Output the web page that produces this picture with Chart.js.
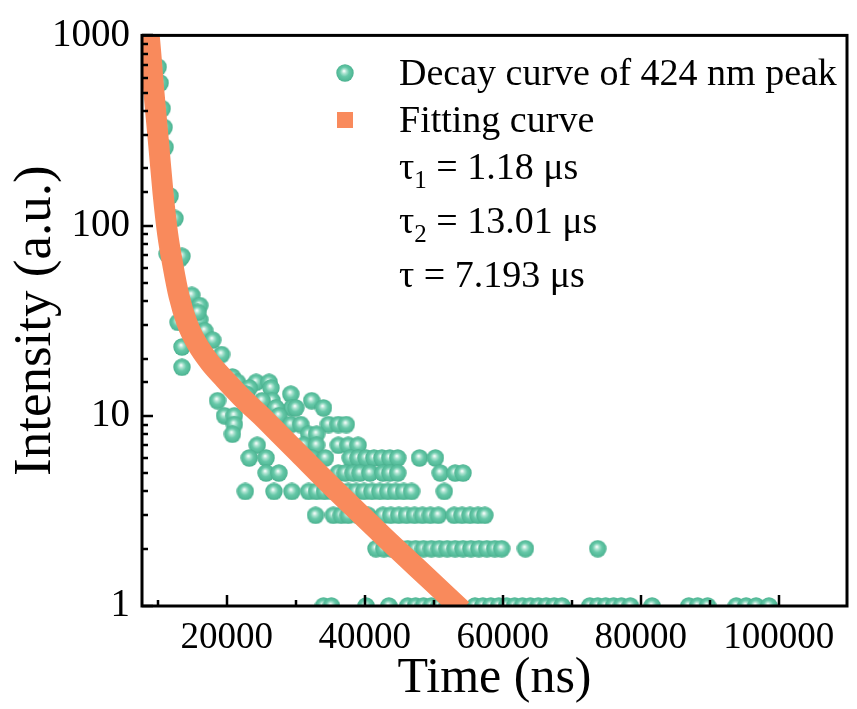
<!DOCTYPE html>
<html><head><meta charset="utf-8">
<script src="https://cdn.jsdelivr.net/npm/chart.js@4.4.1/dist/chart.umd.min.js"></script>
<style>html,body{margin:0;padding:0;background:#fff;}canvas{display:block;}</style>
</head><body>
<canvas id="c" width="857" height="709"></canvas>
<script>
// ---- data ----
const fitTime = [8470, 8750, 9400, 10120, 10760, 11410, 12200, 13060, 14210, 15640, 17510, 19660, 22530, 24970, 27550, 30420, 34730, 39030, 43340, 47640, 51950, 54100];
const fitIntensity = [1170, 988, 517, 267, 147, 90.9, 61.2, 42.7, 30.9, 24.0, 19.1, 15.6, 12.1, 10.0, 8.06, 6.34, 4.42, 3.12, 2.21, 1.58, 1.127, 0.953];

const decayTime = [
  8900, 9400, 9800, 10045, 10330, 10300, 10620, 10900, 11000, 11050, 11340, 11700, 11770, 12480, 12600, 12920, 13200, 13490, 13490, 13490,
  14920, 16070, 16070, 15790, 16790, 17940, 19230, 18650, 19660, 20810, 21530, 24250, 26120, 26400, 23250, 29270, 22820, 26550, 25110, 32290,
  29420, 27120, 29990, 34010, 27550, 21090, 21090, 29270, 30710, 34730, 36160, 37310, 20810, 31860, 33010, 24400, 31140, 33010, 36160, 37600, 39030,
  23250, 25690, 32290, 34300, 37880, 39030, 40180, 41330, 42480, 43620, 44770, 47930, 50230,
  25690, 27550, 33290, 36160, 37170, 38310, 39320, 40750, 42620, 43620, 44770, 50940, 53100, 54240,
  22670, 26830, 29420, 31860, 33010, 34160, 35300, 36450, 37600, 38750, 39890, 41040, 42190, 43340, 44480, 45630, 46780, 51520,
  32860, 35440, 36590, 37600, 39030, 40470, 42620, 43770, 44920, 46060, 47210, 48360, 49510, 50660, 52950, 54100, 55250, 56400, 57400,
  41620, 42760, 43910, 45060, 46210, 47360, 48500, 49650, 50800, 51950, 53100, 54240, 55390, 56540, 57690, 58840, 59840, 63280, 73760,
  34010, 35160, 40180, 43480, 46210, 47360, 48500, 49650, 50800, 51950, 53100, 55970, 57110, 58260, 59410, 60560, 61710, 62850, 64000, 65150,
  66300, 67450, 68590, 72610, 73760, 74910, 76060, 77200, 78490, 81650, 86960, 88250, 89690, 93850, 95280, 96720, 98580
];
const decayIntensity = [
  930, 520, 360, 681, 562, 225, 412, 328, 123, 258, 71, 79, 143, 109, 52, 31, 67, 69, 23, 18,
  43, 38, 32, 35, 28, 25, 21, 12, 10, 16, 15, 15, 15, 14, 14, 13, 13, 12, 12, 12,
  11, 11, 11, 11, 10, 10, 9, 9, 9, 9, 9, 9, 8, 8, 8, 7, 7, 7, 7, 7, 7,
  6, 6, 6, 6, 6, 6, 6, 6, 6, 6, 6, 6, 6,
  5, 5, 5, 5, 5, 5, 5, 5, 5, 5, 5, 5, 5, 5,
  4, 4, 4, 4, 4, 4, 4, 4, 4, 4, 4, 4, 4, 4, 4, 4, 4, 4,
  3, 3, 3, 3, 3, 3, 3, 3, 3, 3, 3, 3, 3, 3, 3, 3, 3, 3, 3,
  2, 2, 2, 2, 2, 2, 2, 2, 2, 2, 2, 2, 2, 2, 2, 2, 2, 2, 2,
  1, 1, 1, 1, 1, 1, 1, 1, 1, 1, 1, 1, 1, 1, 1, 1, 1, 1, 1, 1,
  1, 1, 1, 1, 1, 1, 1, 1, 1, 1, 1, 1, 1, 1, 1, 1, 1
];

const xTickValues = [10000, 20000, 30000, 40000, 50000, 60000, 70000, 80000, 90000, 100000];
const xMajorTicks = [20000, 40000, 60000, 80000, 100000];
const yMajorTicks = [1, 10, 100, 1000];
const seriesNames = ['Decay curve of 424 nm peak', 'Fitting curve'];
const tauSymbols = ['τ', 'τ', 'τ'];
const tauSubscripts = ['1', '2', ''];
const tauTexts = [' = 1.18 μs', ' = 13.01 μs', ' = 7.193 μs'];

// ---- styles ----
const FONT = "'Liberation Serif', 'Times New Roman', serif";
const ORANGE = '#f98a5c';

function makeSphere(d) {
  const cv = document.createElement('canvas');
  cv.width = d; cv.height = d;
  const g = cv.getContext('2d');
  const r = d / 2;
  const grad = g.createRadialGradient(r - 1, r - 2, 0.5, r, r, r);
  grad.addColorStop(0, '#f2fbf8');
  grad.addColorStop(0.22, '#a9e2cf');
  grad.addColorStop(0.5, '#66c8a8');
  grad.addColorStop(0.85, '#52b997');
  grad.addColorStop(1, '#47ad8b');
  g.fillStyle = grad;
  g.beginPath(); g.arc(r, r, r - 0.3, 0, Math.PI * 2); g.fill();
  return cv;
}
const sphere = makeSphere(18);

const decayPoints = decayTime.map((t, i) => ({ x: t, y: decayIntensity[i] }));
const fitPoints = fitTime.map((t, i) => ({ x: t, y: fitIntensity[i] }));

const framePlugin = {
  id: 'frame',
  afterDatasetsDraw(chart) {
    const { ctx, chartArea: a, scales } = chart;
    const x = scales.x, y = scales.y;
    ctx.save();
    ctx.strokeStyle = '#000';
    ctx.lineWidth = 2.5;
    x.ticks.forEach(t => {
      const px = Math.round(x.getPixelForValue(t.value));
      const major = xMajorTicks.includes(t.value);
      ctx.beginPath(); ctx.moveTo(px, a.bottom); ctx.lineTo(px, a.bottom - (major ? 11 : 6)); ctx.stroke();
    });
    y.ticks.forEach(t => {
      const py = Math.round(y.getPixelForValue(t.value));
      const major = yMajorTicks.includes(t.value);
      ctx.beginPath(); ctx.moveTo(a.left, py); ctx.lineTo(a.left + (major ? 11 : 6), py); ctx.stroke();
    });
    ctx.lineWidth = 3;
    ctx.strokeRect(a.left, a.top, a.right - a.left, a.bottom - a.top);
    ctx.restore();
  },
  afterDraw(chart) {
    const ctx = chart.ctx;
    ctx.save();
    ctx.drawImage(sphere, 345 - 9, 73 - 9, 18, 18);
    ctx.fillStyle = ORANGE;
    ctx.fillRect(345 - 8, 120 - 8, 16, 16);
    ctx.fillStyle = '#000';
    ctx.textBaseline = 'alphabetic';
    ctx.textAlign = 'left';
    const tx = 399;
    ctx.font = '38px ' + FONT;
    ctx.fillText(seriesNames[0], tx, 85);
    ctx.fillText(seriesNames[1], tx, 132);
    const bases = [179, 233, 287];
    for (let i = 0; i < 3; i++) {
      ctx.font = '38px ' + FONT;
      ctx.fillText(tauSymbols[i], tx, bases[i]);
      let cx = tx + ctx.measureText(tauSymbols[i]).width;
      if (tauSubscripts[i]) {
        ctx.font = '25px ' + FONT;
        ctx.fillText(tauSubscripts[i], cx, bases[i] + 9);
        cx += ctx.measureText(tauSubscripts[i]).width;
        ctx.font = '38px ' + FONT;
      }
      ctx.fillText(tauTexts[i], cx, bases[i]);
    }
    ctx.restore();
  }
};

Chart.defaults.font.family = FONT;
Chart.defaults.color = '#000';

new Chart(document.getElementById('c'), {
  type: 'scatter',
  data: {
    datasets: [
      {
        type: 'line',
        label: seriesNames[1],
        data: fitPoints,
        borderColor: ORANGE,
        borderWidth: 21,
        pointRadius: 0,
        cubicInterpolationMode: 'monotone',
        borderJoinStyle: 'round',
        fill: false,
        clip: 0
      },
      {
        label: seriesNames[0],
        data: decayPoints,
        pointStyle: sphere,
        pointRadius: 9,
        showLine: false,
        clip: 0
      }
    ]
  },
  plugins: [framePlugin],
  options: {
    responsive: false,
    animation: false,
    devicePixelRatio: 1,
    layout: { padding: { left: 0, right: 3, top: 31, bottom: 0 } },
    plugins: { legend: { display: false }, tooltip: { enabled: false } },
    scales: {
      x: {
        type: 'linear',
        min: 7700,
        max: 109900,
        grid: { display: false, drawTicks: false },
        border: { display: false },
        afterBuildTicks: s => { s.ticks = xTickValues.map(v => ({ value: v })); },
        ticks: {
          autoSkip: false,
          maxRotation: 0,
          padding: 10,
          font: { size: 37 },
          callback: v => xMajorTicks.includes(v) ? String(v) : ''
        },
        title: { display: true, text: 'Time (ns)', font: { size: 50 }, padding: { top: 0, bottom: 0 } },
        afterFit: s => { s.height = 103; }
      },
      y: {
        type: 'logarithmic',
        min: 1,
        max: 1000,
        grid: { display: false, drawTicks: false },
        border: { display: false },
        ticks: {
          autoSkip: false,
          padding: 12,
          font: { size: 39 },
          callback: v => yMajorTicks.includes(v) ? String(v) : ''
        },
        title: { display: true, text: 'Intensity (a.u.)', font: { size: 53 }, padding: { top: 4, bottom: 0 } },
        afterFit: s => { s.width = 142; }
      }
    }
  }
});
</script>
</body></html>
